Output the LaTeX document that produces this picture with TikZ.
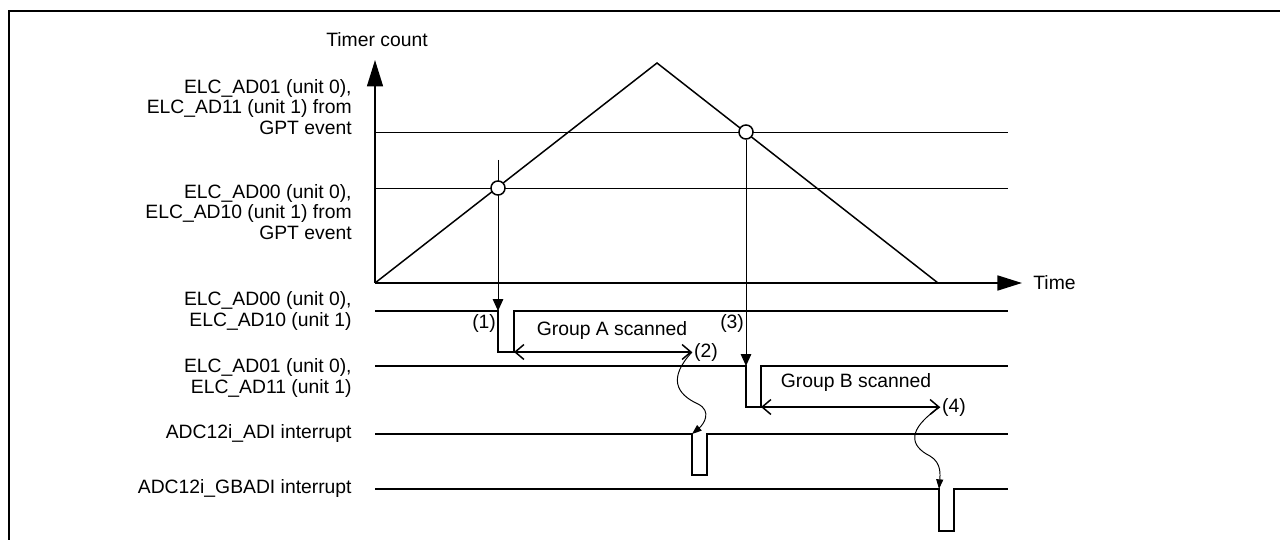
\documentclass[tikz,border=0pt]{standalone}
\usepackage{fontspec}
\setmainfont{Liberation Sans}
\usepackage{tikz}
\usetikzlibrary{arrows.meta}

\begin{document}
\begin{tikzpicture}[x=0.02cm,y=-0.02cm,font=\fontsize{11}{11.8}\selectfont,
  sig/.style={line width=0.85pt},
  thinline/.style={line width=0.55pt},
  lbl/.style={anchor=east,align=right,inner sep=0pt},
  scanarrow/.style={line width=0.85pt,
    {Straight Barb[length=5pt,width=8.5pt]}-{Straight Barb[length=5pt,width=8.5pt]}},
  trig/.style={thinline,-{Triangle[length=6.8pt,width=6pt]}},
  curvy/.style={thinline,-{Triangle[length=5.5pt,width=4pt]}},
  match/.style={circle,draw,fill=white,line width=0.85pt,minimum size=8pt,inner sep=0pt}]
  \useasboundingbox (0,0) rectangle (1280,540);
  \draw[line width=1.7pt] (9,540) -- (9,11) -- (1280,11);
  % axes
  \coordinate (o) at (375,283);
  \coordinate (ytop) at (375,60);
  \coordinate (xend) at (1022,283);
  \draw[line width=1.1pt,-{Triangle[length=15pt,width=9pt]}] (o) -- (ytop);
  \draw[line width=1.1pt,-{Triangle[length=14pt,width=8.5pt]}] (o) -- (xend);
  \node (tcount) at (377,40) {Timer count};
  \node[right,inner sep=0pt] (time) at (1033,283) {Time};
  % compare levels and counter
  \draw[thinline] (375,132) -- (1008,132);
  \draw[thinline] (375,188) -- (1008,188);
  \coordinate (peak) at (657,63);
  \coordinate (tend) at (938,283);
  \draw[line width=0.85pt] (o) -- (peak) -- (tend);
  \coordinate (t1a) at (498,160);
  \coordinate (t1b) at (498,311);
  \coordinate (t2b) at (746,366);
  \draw[trig] (t1a) -- (t1b);
  \node[match] (m1) at (498,188) {};
  \node[match] (m2) at (746,132) {};
  \draw[trig] (m2.south) -- (t2b);
  % level labels
  \node[lbl] (lv1) at (352,107) {ELC\_AD01 (unit 0),\\ELC\_AD11 (unit 1) from\\GPT event};
  \node[lbl] (lv0) at (352,212) {ELC\_AD00 (unit 0),\\ELC\_AD10 (unit 1) from\\GPT event};
  % signals
  \node[lbl] (s1) at (352,311) {ELC\_AD00 (unit 0),\\ELC\_AD10 (unit 1)};
  \node[lbl] (s2) at (352,378) {ELC\_AD01 (unit 0),\\ELC\_AD11 (unit 1)};
  \node[lbl] (s3) at (352,434) {ADC12i\_ADI interrupt};
  \node[lbl] (s4) at (352,489) {ADC12i\_GBADI interrupt};
  \draw[sig] (375,311) -- (t1b) -- (498,352) -- (514,352) -- (514,311) -- (1008,311);
  \draw[sig] (375,366) -- (t2b) -- (746,407) -- (761,407) -- (761,366) -- (1008,366);
  \draw[sig] (375,434) -- (692,434) -- (692,475) -- (707,475) -- (707,434) -- (1008,434);
  \draw[sig] (375,489) -- (939,489) -- (939,531) -- (954,531) -- (954,489) -- (1008,489);
  % scan periods
  \coordinate (a0) at (514,352);
  \coordinate (a1) at (692,352);
  \coordinate (b0) at (761,407);
  \coordinate (b1) at (940,407);
  \draw[scanarrow] (a0) -- (a1);
  \draw[scanarrow] (b0) -- (b1);
  \node (grpa) at (612,331) {Group A scanned};
  \node (grpb) at (856,383) {Group B scanned};
  \node[left,inner sep=1pt] (n1) at (t1b |- 0,323) {(1)};
  \node[right,inner sep=1pt] (n2) at (a1) {(2)};
  \node[left,inner sep=1pt] (n3) at (t2b |- 0,323) {(3)};
  \node[right,inner sep=1pt] (n4) at (b1) {(4)};
  % interrupt requests
  \coordinate (i1) at (692,434);
  \coordinate (i2) at (939,489);
  \draw[curvy] (a1) .. controls (668,378) and (676,394) .. (698,404)
    .. controls (712,411) and (704,424) .. (i1);
  \draw[curvy] (b1) .. controls (906,430) and (910,446) .. (930,456)
    .. controls (942,463) and (940,476) .. (i2);
\end{tikzpicture}
\end{document}
